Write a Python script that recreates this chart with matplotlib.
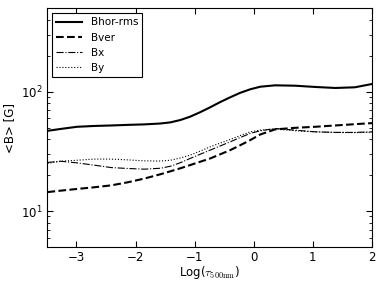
import matplotlib
matplotlib.use("Agg")
import matplotlib.pyplot as plt

plt.rcParams['mathtext.fontset'] = 'cm'
plt.rcParams['font.family'] = 'DejaVu Sans'

log_tau = [-3.49, -3.27, -2.99, -2.70, -2.41, -2.13, -1.85, -1.58, -1.41, -1.24, -1.08,
           -0.91, -0.74, -0.57, -0.40, -0.23, -0.06, 0.11, 0.36, 0.70, 1.04, 1.38, 1.71, 2.0]
bhor = [46.9, 48.6, 50.7, 51.5, 52.0, 52.6, 53.1, 54.0, 55.2, 57.8, 61.5,
        67.0, 73.7, 81.5, 89.4, 97.5, 104.4, 109.7, 112.7, 111.9, 109.2, 107.1, 108.5, 115.6]
bver = [14.4, 14.8, 15.3, 15.8, 16.4, 17.4, 18.7, 20.3, 21.5, 22.8, 24.2,
        25.8, 27.5, 29.8, 32.3, 35.5, 39.2, 43.7, 48.2, 49.7, 50.7, 52.0, 53.3, 54.4]
bx = [25.5, 26.1, 25.3, 24.2, 23.1, 22.7, 22.4, 22.8, 23.7, 25.4, 27.5,
      29.8, 32.3, 35.0, 37.9, 41.2, 44.6, 46.9, 49.1, 47.5, 46.0, 45.5, 45.5, 46.0]
by = [25.0, 26.1, 26.6, 27.2, 27.2, 26.8, 26.3, 26.2, 26.6, 27.8, 29.3,
      31.7, 34.4, 37.0, 39.7, 42.8, 46.0, 47.5, 48.5, 47.0, 46.0, 45.5, 45.3, 45.6]

fig = plt.figure(figsize=(3.78, 2.81), dpi=100)
ax = fig.add_axes([0.124, 0.121, 0.86, 0.8505])
ax.plot(log_tau, bhor, 'k-', lw=1.5, label='Bhor-rms')
ax.plot(log_tau, bver, 'k--', lw=1.5, label='Bver')
ax.plot(log_tau, bx, 'k-.', lw=0.8, label='Bx')
ax.plot(log_tau, by, 'k:', lw=0.8, label='By')
ax.set_yscale('log')
ax.set_xlim(-3.5, 2)
ax.set_ylim(5, 500)
ax.set_xticks([-3, -2, -1, 0, 1, 2])
ax.tick_params(which='both', direction='in', top=True, right=True, labelsize=8.5)
ax.tick_params(which='major', length=4, pad=3)
ax.tick_params(which='minor', length=2)
ax.set_xlabel(r'Log($\tau_{\rm 500nm}$)', fontsize=8.5, labelpad=0)
ax.set_ylabel('<B> [G]', fontsize=8.5)
leg = ax.legend(loc='upper left', fontsize=7.5, fancybox=False, framealpha=1, edgecolor='k',
                handlelength=2.5, borderaxespad=0.5, labelspacing=0.5)
leg.get_frame().set_linewidth(0.8)
fig.savefig('out.png', dpi=100)
